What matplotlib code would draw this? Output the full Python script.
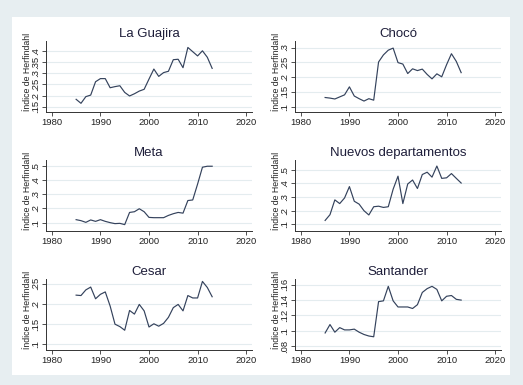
import matplotlib
matplotlib.use("Agg")
import matplotlib.pyplot as plt
from matplotlib.patches import Rectangle
from matplotlib.ticker import FuncFormatter

years = list(range(1985, 2014))

la_guajira = [0.183, 0.165, 0.195, 0.202, 0.262, 0.276, 0.276, 0.235, 0.240, 0.244,
              0.214, 0.198, 0.208, 0.220, 0.228, 0.274, 0.319, 0.286, 0.303, 0.309,
              0.361, 0.363, 0.325, 0.416, 0.397, 0.378, 0.401, 0.372, 0.322]
choco = [0.131, 0.129, 0.126, 0.133, 0.140, 0.167, 0.136, 0.127, 0.119, 0.127,
         0.122, 0.251, 0.275, 0.291, 0.298, 0.249, 0.244, 0.212, 0.228, 0.222,
         0.227, 0.209, 0.194, 0.211, 0.201, 0.242, 0.279, 0.253, 0.215]
meta = [0.121, 0.114, 0.102, 0.119, 0.109, 0.121, 0.109, 0.100, 0.093, 0.095,
        0.086, 0.172, 0.177, 0.198, 0.177, 0.137, 0.135, 0.135, 0.135, 0.151,
        0.163, 0.172, 0.167, 0.256, 0.260, 0.372, 0.491, 0.498, 0.498]
nuevos = [0.129, 0.171, 0.279, 0.252, 0.293, 0.376, 0.269, 0.248, 0.200, 0.169,
          0.229, 0.233, 0.224, 0.229, 0.357, 0.452, 0.252, 0.395, 0.424, 0.362,
          0.464, 0.481, 0.445, 0.526, 0.436, 0.440, 0.471, 0.436, 0.402]
cesar = [0.222, 0.221, 0.235, 0.242, 0.213, 0.224, 0.230, 0.195, 0.150, 0.144,
         0.135, 0.184, 0.175, 0.199, 0.183, 0.143, 0.151, 0.145, 0.152, 0.167,
         0.191, 0.199, 0.183, 0.221, 0.215, 0.215, 0.256, 0.241, 0.218]
santander = [0.097, 0.108, 0.098, 0.104, 0.101, 0.101, 0.102, 0.098, 0.095, 0.093,
             0.092, 0.138, 0.139, 0.158, 0.139, 0.131, 0.131, 0.131, 0.129, 0.134,
             0.150, 0.155, 0.158, 0.154, 0.139, 0.145, 0.146, 0.141, 0.140]

titles = ["La Guajira", "Chocó", "Meta", "Nuevos departamentos", "Cesar", "Santander"]
series = [la_guajira, choco, meta, nuevos, cesar, santander]
y_ticks = [
    [0.15, 0.2, 0.25, 0.3, 0.35, 0.4],
    [0.1, 0.15, 0.2, 0.25, 0.3],
    [0.1, 0.2, 0.3, 0.4, 0.5],
    [0.1, 0.2, 0.3, 0.4, 0.5],
    [0.1, 0.15, 0.2, 0.25],
    [0.08, 0.1, 0.12, 0.14, 0.16],
]
y_limits = [(0.126, 0.445), (0.082, 0.322), (0.041, 0.542),
            (0.052, 0.570), (0.086, 0.262), (0.0747, 0.1676)]
x_ticks = [1980, 1990, 2000, 2010, 2020]

W, H = 523, 385
line_color = "#34425c"
text_color = "#1e1e3a"
grid_color = "#e4ecef"

# narrow sans to mimic the squeezed Stata export
plt.rcParams["font.family"] = ["Liberation Sans Narrow", "Liberation Sans", "DejaVu Sans"]

fig = plt.figure(figsize=(W / 100, H / 100), dpi=100)
fig.patch.set_facecolor("#e7eef1")
# white inner panel behind all subplots
fig.patches.append(Rectangle((12 / W, 1 - 375 / H), 498 / W, 358 / H,
                             transform=fig.transFigure, facecolor="white",
                             edgecolor="none", zorder=-10))


def stata_fmt(v, pos):
    s = ("%.2f" % v).rstrip("0").rstrip(".")
    if s.startswith("0"):
        s = s[1:]
    return s


lefts = [46, 295]
tops = [41, 160, 279]
for i in range(6):
    row, col = divmod(i, 2)
    left = lefts[col]
    top = tops[row]
    ax = fig.add_axes([left / W, 1 - (top + 71) / H, 206 / W, 71 / H])
    ax.set_facecolor("white")
    ax.plot(years, series[i], color=line_color, linewidth=0.85)
    ax.set_xlim(1978.8, 2021.2)
    ax.set_ylim(*y_limits[i])
    ax.set_xticks(x_ticks)
    ax.set_yticks(y_ticks[i])
    ax.yaxis.set_major_formatter(FuncFormatter(stata_fmt))
    for t in y_ticks[i]:
        ax.axhline(t, color=grid_color, linewidth=0.8, zorder=0)
    for side in ["top", "right"]:
        ax.spines[side].set_visible(False)
    for side in ["left", "bottom"]:
        ax.spines[side].set_color("#333333")
        ax.spines[side].set_linewidth(0.7)
    ax.tick_params(axis="both", length=3, width=0.6, color="#333333",
                   labelsize=6.8, labelcolor="#222222", pad=1.5)
    for lab in ax.get_yticklabels():
        lab.set_rotation(90)
        lab.set_va("center")
    ax.set_title(titles[i], fontsize=9.5, color=text_color, pad=3)
    ax.set_ylabel("Índice de Herfindahl", fontsize=6.3, color="#222222")
    ax.yaxis.set_label_coords(-0.07, 0.56)

plt.savefig("out.png", dpi=100, facecolor=fig.get_facecolor())
plt.close()
